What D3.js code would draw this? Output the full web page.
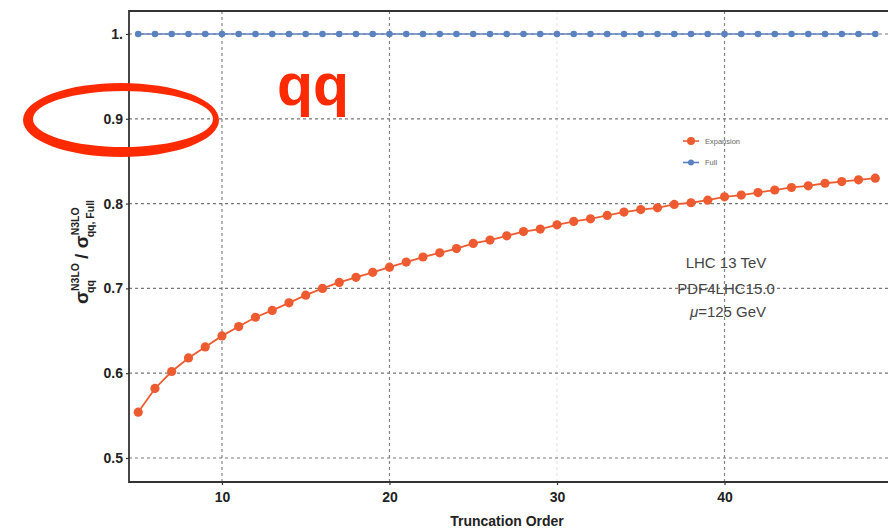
<!DOCTYPE html>
<html>
<head>
<meta charset="utf-8">
<script src="https://cdn.jsdelivr.net/npm/d3@7"></script>
<style>
  html, body { margin: 0; padding: 0; background: #fff; }
  svg { display: block; font-family: "Liberation Sans", Arial, sans-serif; }
</style>
</head>
<body>
<svg id="chart" width="888" height="531"></svg>
<script>
// Truncation orders 5..49
const orders = d3.range(5, 50);

// N3LO qq-channel cross section, expansion truncated at each order / full result
const expansion = [
  0.554, 0.582, 0.602, 0.618, 0.631, 0.644, 0.655, 0.666, 0.674, 0.683,
  0.692, 0.700, 0.707, 0.713, 0.719, 0.725, 0.731, 0.737, 0.742, 0.747,
  0.753, 0.757, 0.762, 0.767, 0.770, 0.775, 0.779, 0.782, 0.786, 0.790,
  0.793, 0.795, 0.799, 0.801, 0.804, 0.808, 0.810, 0.813, 0.816, 0.819,
  0.821, 0.824, 0.826, 0.828, 0.830
];
const full = orders.map(() => 1.0);

const xTicks = [10, 20, 30, 40];
const yTicks = [0.5, 0.6, 0.7, 0.8, 0.9, 1.0];
const yTickLabels = ["0.5", "0.6", "0.7", "0.8", "0.9", "1."];
const seriesNames = ["Expansion", "Full"];
const infoLines = ["LHC 13 TeV", "PDF4LHC15.0", "=125 GeV"];

const colOrange = "#ef5b30";
const colBlue = "#5b82c0";

const svg = d3.select("#chart");
const plotL = 129, plotR = 888, plotT = 11, plotB = 482;

const x = d3.scaleLinear().domain([4.45, 49.76]).range([plotL, plotR]);
const y = d3.scaleLinear().domain([0.4717, 1.0271]).range([plotB, plotT]);

// Grid lines
const grid = svg.append("g");
grid.selectAll("line.gx").data(xTicks).enter().append("line")
  .attr("x1", d => x(d)).attr("x2", d => x(d))
  .attr("y1", plotT).attr("y2", plotB)
  .attr("stroke", "#777").attr("stroke-width", 1.2)
  .attr("stroke-dasharray", "3,3")
  .attr("stroke-opacity", d => d === 30 ? 0.18 : 0.9);
grid.selectAll("line.gy").data(yTicks).enter().append("line")
  .attr("x1", plotL).attr("x2", plotR)
  .attr("y1", d => y(d)).attr("y2", d => y(d))
  .attr("stroke", "#777").attr("stroke-width", 1.2)
  .attr("stroke-dasharray", "3,3");

// Axes
const xAxis = d3.axisBottom(x).tickValues(xTicks).tickSize(3).tickPadding(7)
  .tickFormat(d3.format("d"));
const yAxis = d3.axisLeft(y).tickValues(yTicks).tickSize(3).tickPadding(3)
  .tickFormat((d, i) => yTickLabels[i]);

const gx = svg.append("g").attr("transform", `translate(0,${plotB})`).call(xAxis);
const gy = svg.append("g").attr("transform", `translate(${plotL},0)`).call(yAxis);
[gx, gy].forEach(g => {
  g.select(".domain").remove();
  g.selectAll(".tick line").attr("stroke", "#333").attr("stroke-width", 1.2);
  g.selectAll(".tick text")
    .attr("font-family", "Liberation Sans, Arial, sans-serif")
    .attr("font-size", 14).attr("font-weight", "bold").attr("fill", "#222");
});

// Frame (left, top, bottom)
svg.append("path")
  .attr("d", `M${plotR},${plotT}H${plotL}V${plotB}H${plotR}`)
  .attr("fill", "none").attr("stroke", "#333").attr("stroke-width", 1.8);

// Series
const line = d3.line().x(d => x(d[0])).y(d => y(d[1]));
const fullPts = orders.map((o, i) => [o, full[i]]);
const expPts = orders.map((o, i) => [o, expansion[i]]);

svg.append("path").datum(fullPts).attr("d", line)
  .attr("fill", "none").attr("stroke", colBlue).attr("stroke-width", 1.6);
svg.append("g").selectAll("circle").data(fullPts).enter().append("circle")
  .attr("cx", d => x(d[0])).attr("cy", d => y(d[1])).attr("r", 3.3)
  .attr("fill", colBlue);

svg.append("path").datum(expPts).attr("d", line)
  .attr("fill", "none").attr("stroke", colOrange).attr("stroke-width", 1.8);
svg.append("g").selectAll("circle").data(expPts).enter().append("circle")
  .attr("cx", d => x(d[0])).attr("cy", d => y(d[1])).attr("r", 4.6)
  .attr("fill", colOrange);

// Legend
const legend = svg.append("g").attr("transform", "translate(683,141)");
[colOrange, colBlue].forEach((c, i) => {
  const g = legend.append("g").attr("transform", `translate(0,${i * 21.5})`);
  g.append("line").attr("x1", 0).attr("x2", 16).attr("y1", 0).attr("y2", 0)
    .attr("stroke", c).attr("stroke-width", 1.6);
  g.append("circle").attr("cx", 8).attr("cy", 0).attr("r", i === 0 ? 4 : 3).attr("fill", c);
  g.append("text").attr("x", 22).attr("y", 2.5).text(seriesNames[i])
    .attr("font-size", 7.5).attr("fill", "#666");
});

// Collider / PDF / scale annotation
const info = svg.append("g").attr("font-size", 15).attr("fill", "#444")
  .attr("text-anchor", "middle");
info.append("text").attr("x", 726).attr("y", 268).text(infoLines[0]);
info.append("text").attr("x", 726).attr("y", 294).text(infoLines[1]);
const mu = info.append("text").attr("x", 728).attr("y", 317);
mu.append("tspan").attr("font-style", "italic").text("μ");
mu.append("tspan").text(infoLines[2]);

// Axis titles
svg.append("text").attr("x", 507).attr("y", 526).attr("text-anchor", "middle")
  .attr("font-size", 14).attr("font-weight", "bold").attr("fill", "#222")
  .text("Truncation Order");

const yl = svg.append("text")
  .attr("transform", "translate(88,252) rotate(-90)")
  .attr("text-anchor", "middle").attr("font-weight", "bold").attr("fill", "#222")
  .attr("font-size", 19);
yl.append("tspan").text("σ");
yl.append("tspan").attr("font-size", 10.5).attr("dy", -9).text("N3LO");
yl.append("tspan").attr("font-size", 10.5).attr("dx", -30).attr("dy", 15).text("qq");
yl.append("tspan").attr("dx", 16).attr("dy", -6).text(" / σ");
yl.append("tspan").attr("font-size", 10.5).attr("dy", -9).text("N3LO");
yl.append("tspan").attr("font-size", 10.5).attr("dx", -30).attr("dy", 15).text("qq, Full");

// Channel marker and highlight around the 0.9 label
svg.append("text").attr("x", 277).attr("y", 105)
  .attr("font-size", 59).attr("font-weight", "bold").attr("fill", "#ff2a00")
  .text("qq");

const ell = (cx, cy, rx, ry) =>
  `M${cx - rx},${cy}A${rx},${ry} 0 1,0 ${cx + rx},${cy}A${rx},${ry} 0 1,0 ${cx - rx},${cy}Z`;
svg.append("path")
  .attr("d", ell(121, 120, 98, 37) + ell(123, 119, 90, 28))
  .attr("fill", "#ff2a00").attr("fill-rule", "evenodd");
</script>
</body>
</html>
